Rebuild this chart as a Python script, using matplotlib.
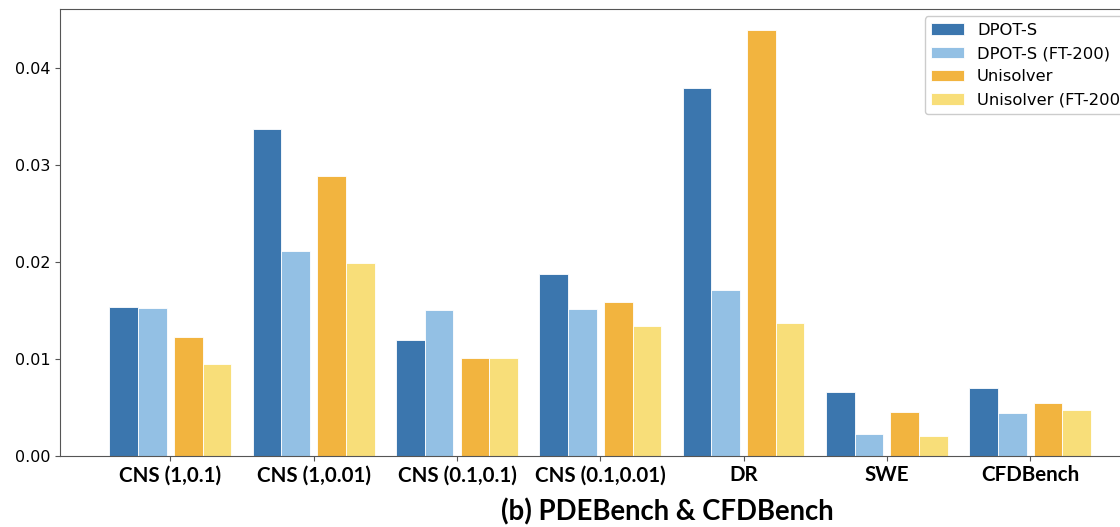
import numpy as np
import matplotlib
matplotlib.use("Agg")
import matplotlib.pyplot as plt

# Benchmarks and errors per model
categories = ["CNS (1,0.1)", "CNS (1,0.01)", "CNS (0.1,0.1)", "CNS (0.1,0.01)",
              "DR", "SWE", "CFDBench"]
dpot_s = [0.0153, 0.0337, 0.0119, 0.0187, 0.0379, 0.0066, 0.0070]
dpot_s_ft = [0.0152, 0.0211, 0.0150, 0.0151, 0.0171, 0.0022, 0.0044]
unisolver = [0.0123, 0.0289, 0.0101, 0.0159, 0.0439, 0.0045, 0.0054]
unisolver_ft = [0.0095, 0.0199, 0.0101, 0.0134, 0.0137, 0.0020, 0.0047]
series_labels = ["DPOT-S", "DPOT-S (FT-200)", "Unisolver", "Unisolver (FT-200)"]
title = "(b) PDEBench & CFDBench"

colors = ["#3b76ae", "#93c0e4", "#f2b43f", "#f8de79"]
offsets = [-0.325, -0.125, 0.125, 0.325]
width = 0.2

fig = plt.figure(figsize=(11.2, 5.27), dpi=100)
ax = fig.add_axes([0.0536, 0.1353, 0.9647, 0.8476])

x = np.arange(len(categories))
for vals, off, col, lab in zip([dpot_s, dpot_s_ft, unisolver, unisolver_ft],
                               offsets, colors, series_labels):
    ax.bar(x + off, vals, width, color=col, label=lab,
           edgecolor="white", linewidth=0.6)

ax.set_xlim(-0.77, 6.77)
ax.set_xticks(x)
ax.set_xticklabels(categories, fontfamily="Lato", fontweight="bold", fontsize=14.8)
ax.set_yticks([0.0, 0.01, 0.02, 0.03, 0.04])
ax.set_yticklabels(["0.00", "0.01", "0.02", "0.03", "0.04"], fontsize=11.5)
ax.tick_params(axis="both", color="#555555")
for s in ax.spines.values():
    s.set_color("#555555")

ax.legend(loc="upper right", fontsize=11.8, framealpha=1.0, edgecolor="#cccccc",
          handlelength=2.0, borderaxespad=0.45)

fig.text(667 / 1120, 0.028, title, ha="center", va="center",
         fontfamily="Lato", fontweight="bold", fontsize=19.8)

fig.savefig("out.png", dpi=100)
